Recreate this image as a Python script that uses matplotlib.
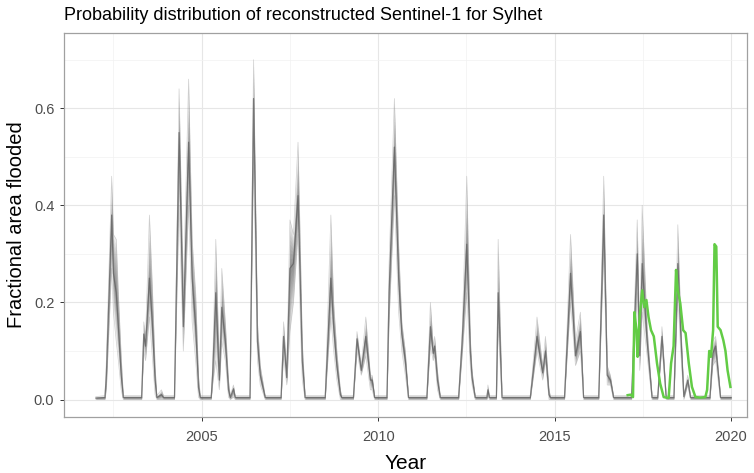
import numpy as np
import matplotlib
matplotlib.use("Agg")
import matplotlib.pyplot as plt
from matplotlib.ticker import MultipleLocator

plt.rcParams['font.family'] = ['Liberation Sans', 'DejaVu Sans']

# Reconstructed flood fraction: time (decimal year), lower bound, median, upper bound
t_knots = [
    2002.00, 2002.26, 2002.30, 2002.45, 2002.50, 2002.58, 2002.64, 2002.72, 2002.78,
    2003.30, 2003.36, 2003.41, 2003.52, 2003.60, 2003.68, 2003.73, 2003.86, 2003.92,
    2004.23, 2004.36, 2004.48, 2004.63, 2004.73, 2004.83, 2004.91, 2004.96,
    2005.27, 2005.31, 2005.40, 2005.50, 2005.57, 2005.67, 2005.76, 2005.81, 2005.90, 2005.95,
    2006.37, 2006.47, 2006.58, 2006.66, 2006.80,
    2007.25, 2007.32, 2007.41, 2007.50, 2007.60, 2007.73, 2007.80, 2007.85, 2007.93,
    2008.50, 2008.66, 2008.74, 2008.83, 2008.93, 2008.97,
    2009.30, 2009.40, 2009.52, 2009.65, 2009.78, 2009.83, 2009.90,
    2010.25, 2010.31, 2010.46, 2010.58, 2010.67, 2010.77, 2010.86,
    2011.38, 2011.48, 2011.56, 2011.60, 2011.68, 2011.76,
    2012.28, 2012.38, 2012.51, 2012.61, 2012.66, 2012.75,
    2013.08, 2013.11, 2013.15, 2013.35, 2013.40, 2013.51,
    2014.31, 2014.50, 2014.66, 2014.74, 2014.84, 2014.88,
    2015.28, 2015.45, 2015.59, 2015.73, 2015.82,
    2016.25, 2016.39, 2016.49, 2016.58, 2016.67,
    2017.18, 2017.34, 2017.41, 2017.48, 2017.62, 2017.76,
    2017.92, 2018.04, 2018.16,
    2018.38, 2018.49, 2018.57, 2018.66, 2018.77, 2018.85,
    2019.40, 2019.48, 2019.56, 2019.70, 2020.00,
]
q_low = [
    0.000, 0.000, 0.020, 0.270, 0.180, 0.120, 0.080, 0.020, 0.000,
    0.000, 0.100, 0.080, 0.170, 0.090, 0.010, 0.000, 0.000, 0.000,
    0.000, 0.400, 0.100, 0.400, 0.160, 0.080, 0.005, 0.000,
    0.000, 0.030, 0.080, 0.020, 0.120, 0.080, 0.005, 0.000, 0.005, 0.000,
    0.000, 0.500, 0.080, 0.030, 0.000,
    0.000, 0.090, 0.030, 0.140, 0.200, 0.340, 0.150, 0.040, 0.000,
    0.000, 0.170, 0.100, 0.040, 0.000, 0.000,
    0.000, 0.100, 0.050, 0.090, 0.020, 0.020, 0.000,
    0.000, 0.160, 0.420, 0.180, 0.100, 0.050, 0.000,
    0.000, 0.110, 0.080, 0.090, 0.020, 0.000,
    0.000, 0.090, 0.220, 0.070, 0.030, 0.000,
    0.000, 0.010, 0.000, 0.000, 0.150, 0.000,
    0.000, 0.100, 0.040, 0.080, 0.000, 0.000,
    0.000, 0.200, 0.070, 0.100, 0.000,
    0.000, 0.300, 0.030, 0.030, 0.000,
    0.000, 0.220, 0.060, 0.180, 0.090, 0.000,
    0.000, 0.110, 0.000,
    0.000, 0.220, 0.100, 0.000, 0.030, 0.000,
    0.000, 0.070, 0.080, 0.000, 0.000,
]
q_mid = [
    0.003, 0.004, 0.050, 0.380, 0.260, 0.220, 0.150, 0.050, 0.004,
    0.004, 0.135, 0.110, 0.250, 0.160, 0.040, 0.004, 0.010, 0.004,
    0.004, 0.550, 0.150, 0.530, 0.250, 0.150, 0.025, 0.004,
    0.004, 0.050, 0.220, 0.040, 0.190, 0.120, 0.020, 0.004, 0.022, 0.004,
    0.004, 0.620, 0.120, 0.050, 0.004,
    0.004, 0.130, 0.045, 0.270, 0.280, 0.420, 0.220, 0.080, 0.004,
    0.004, 0.250, 0.150, 0.070, 0.010, 0.004,
    0.004, 0.125, 0.060, 0.130, 0.040, 0.040, 0.004,
    0.004, 0.220, 0.520, 0.250, 0.135, 0.080, 0.004,
    0.004, 0.150, 0.095, 0.110, 0.040, 0.004,
    0.004, 0.120, 0.320, 0.100, 0.045, 0.004,
    0.004, 0.020, 0.004, 0.004, 0.220, 0.004,
    0.004, 0.130, 0.055, 0.100, 0.010, 0.004,
    0.004, 0.260, 0.090, 0.140, 0.004,
    0.004, 0.380, 0.050, 0.040, 0.004,
    0.004, 0.300, 0.090, 0.280, 0.120, 0.004,
    0.004, 0.130, 0.004,
    0.004, 0.280, 0.140, 0.006, 0.040, 0.004,
    0.004, 0.095, 0.110, 0.004, 0.004,
]
q_high = [
    0.006, 0.008, 0.080, 0.460, 0.340, 0.330, 0.220, 0.090, 0.008,
    0.008, 0.160, 0.130, 0.380, 0.240, 0.070, 0.008, 0.020, 0.008,
    0.008, 0.640, 0.220, 0.660, 0.330, 0.220, 0.050, 0.008,
    0.008, 0.070, 0.330, 0.070, 0.270, 0.160, 0.040, 0.008, 0.030, 0.008,
    0.008, 0.700, 0.160, 0.070, 0.008,
    0.008, 0.160, 0.060, 0.370, 0.340, 0.530, 0.300, 0.120, 0.008,
    0.008, 0.380, 0.200, 0.100, 0.020, 0.008,
    0.008, 0.140, 0.070, 0.170, 0.050, 0.050, 0.008,
    0.008, 0.280, 0.620, 0.320, 0.160, 0.100, 0.008,
    0.008, 0.200, 0.110, 0.130, 0.060, 0.008,
    0.008, 0.140, 0.460, 0.130, 0.060, 0.008,
    0.008, 0.030, 0.008, 0.008, 0.330, 0.008,
    0.008, 0.170, 0.070, 0.130, 0.020, 0.008,
    0.008, 0.340, 0.120, 0.180, 0.008,
    0.008, 0.460, 0.070, 0.050, 0.008,
    0.008, 0.370, 0.120, 0.400, 0.150, 0.008,
    0.008, 0.150, 0.008,
    0.008, 0.360, 0.170, 0.010, 0.050, 0.008,
    0.008, 0.120, 0.130, 0.008, 0.008,
]

# Observed Sentinel-1 flood fraction
s1_time = [
    2017.07, 2017.15, 2017.22, 2017.26, 2017.32, 2017.35, 2017.41, 2017.48, 2017.54,
    2017.60, 2017.66, 2017.73, 2017.81, 2017.90, 2017.99, 2018.09, 2018.23, 2018.30,
    2018.37, 2018.44, 2018.49, 2018.56, 2018.64, 2018.71, 2018.80, 2018.89, 2018.99,
    2019.13, 2019.27, 2019.32, 2019.38, 2019.43, 2019.49, 2019.53, 2019.58, 2019.62,
    2019.70, 2019.78, 2019.84, 2019.90, 2019.98,
]
s1_frac = [
    0.009, 0.010, 0.005, 0.180, 0.143, 0.088, 0.170, 0.225, 0.190,
    0.205, 0.170, 0.143, 0.130, 0.075, 0.033, 0.005, 0.003, 0.075,
    0.110, 0.267, 0.225, 0.198, 0.143, 0.137, 0.075, 0.026, 0.005,
    0.004, 0.005, 0.020, 0.100, 0.088, 0.143, 0.320, 0.315, 0.150,
    0.143, 0.122, 0.100, 0.060, 0.026,
]

year_ticks = [2005, 2010, 2015, 2020]
frac_ticks = [0.0, 0.2, 0.4, 0.6]

t = np.array(t_knots)
lo = np.array(q_low)
mid = np.array(q_mid)
hi = np.array(q_high)

fig = plt.figure(figsize=(7.54, 4.73), dpi=100)
ax = fig.add_axes([64 / 754, 1 - 417 / 473, (747 - 64) / 754, (417 - 33) / 473])

# Distribution shading: nested bands, denser toward the median
for f in np.linspace(1.0, 0.1, 10):
    ax.fill_between(t, mid - f * (mid - lo), mid + f * (hi - mid),
                    color='#555555', alpha=0.09, lw=0, zorder=2)
ax.plot(t, lo, color='#999999', lw=0.5, alpha=0.45, zorder=3)
ax.plot(t, hi, color='#999999', lw=0.5, alpha=0.45, zorder=3)
ax.plot(t, mid, color='#636363', lw=0.9, alpha=0.8, zorder=3)

ax.plot(s1_time, s1_frac, color='#62cc45', lw=1.8, zorder=4)

ax.set_xlim(2001.10, 2020.45)
ax.set_ylim(-0.036, 0.755)
ax.set_xticks(year_ticks)
ax.set_yticks(frac_ticks)
ax.set_yticklabels([f'{v:.1f}' for v in frac_ticks])
ax.xaxis.set_minor_locator(MultipleLocator(2.5))
ax.yaxis.set_minor_locator(MultipleLocator(0.1))

ax.grid(which='major', color='#e6e6e6', lw=0.8, zorder=0)
ax.grid(which='minor', color='#f2f2f2', lw=0.5, zorder=0)
ax.set_axisbelow(True)
ax.tick_params(which='major', direction='out', length=3, width=0.7,
               color='#333333', labelcolor='#4d4d4d', labelsize=10.5)
ax.tick_params(axis='x', which='major', pad=6)
ax.tick_params(axis='y', which='major', pad=4)
ax.tick_params(which='minor', length=0)
for s in ax.spines.values():
    s.set_color('#a0a0a0')
    s.set_linewidth(0.9)

ax.set_xlabel('Year', fontsize=15)
ax.set_ylabel('Fractional area flooded', fontsize=14.5)
ax.xaxis.set_label_coords(0.5, -0.097)
ax.yaxis.set_label_coords(-0.055, 0.5)
fig.text(64 / 754, 1 - 16 / 473, 'Probability distribution of reconstructed Sentinel-1 for Sylhet',
         fontsize=13, ha='left', va='center')

fig.savefig('out.png', dpi=100, facecolor='white')
